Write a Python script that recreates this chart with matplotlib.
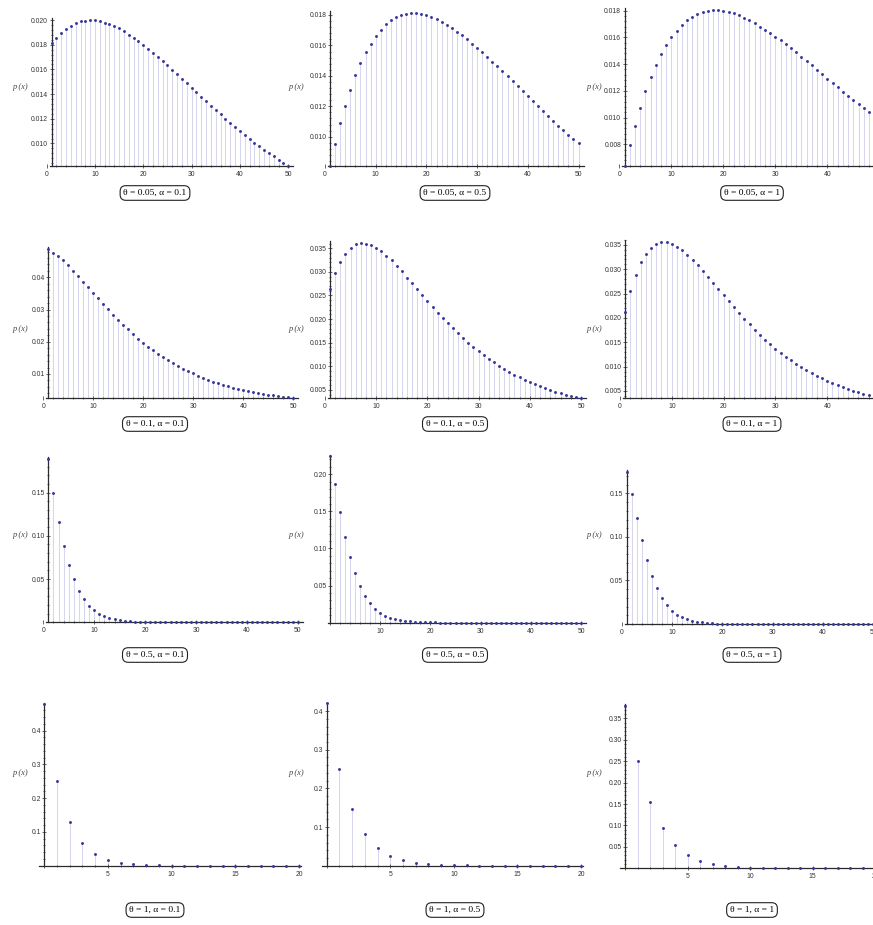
import matplotlib
matplotlib.use("Agg")
import matplotlib.pyplot as plt
from matplotlib.ticker import MultipleLocator, AutoMinorLocator, FuncFormatter

W, H = 873, 925

thetas = ["0.05", "0.1", "0.5", "1"]
alphas = ["0.1", "0.5", "1"]

x_1_50 = list(range(1, 51))
x_0_50 = list(range(0, 51))
x_0_20 = list(range(0, 21))

# theta = 0.05
p_005_01 = [0.0181, 0.01851, 0.01892, 0.01927, 0.01954, 0.01976, 0.01989, 0.01996, 0.02000, 0.01997,
            0.0199, 0.01978, 0.01965, 0.0195, 0.01932, 0.01908, 0.01882, 0.01855, 0.01827, 0.01798,
            0.01767, 0.01735, 0.01702, 0.01668, 0.01633, 0.01597, 0.0156, 0.01524, 0.01487, 0.0145,
            0.01415, 0.01378, 0.01342, 0.01306, 0.0127, 0.01235, 0.012, 0.01166, 0.01133, 0.011,
            0.01068, 0.01037, 0.01007, 0.00978, 0.0095, 0.00922, 0.00895, 0.00869, 0.00844, 0.0082]
p_005_05 = [0.0081, 0.00954, 0.0109, 0.01203, 0.01308, 0.01404, 0.01485, 0.01555, 0.01612, 0.0166,
            0.01703, 0.01739, 0.01765, 0.01787, 0.01801, 0.01809, 0.01813, 0.01811, 0.01806, 0.01798,
            0.01787, 0.01773, 0.01756, 0.01737, 0.01715, 0.01691, 0.01666, 0.0164, 0.01612, 0.01585,
            0.01555, 0.01524, 0.01493, 0.01462, 0.0143, 0.01397, 0.01364, 0.01331, 0.01298, 0.01265,
            0.01232, 0.012, 0.01168, 0.01136, 0.01105, 0.01074, 0.01044, 0.01014, 0.00985, 0.00956]
p_005_1 = [0.0064, 0.00795, 0.0094, 0.01075, 0.012, 0.01303, 0.0139, 0.01473, 0.01543, 0.016,
           0.01651, 0.01693, 0.01728, 0.01756, 0.01776, 0.0179, 0.01799, 0.01803, 0.01803, 0.01799,
           0.01792, 0.0178, 0.01765, 0.01747, 0.01727, 0.01705, 0.01681, 0.01657, 0.01632, 0.01606,
           0.01578, 0.01549, 0.01519, 0.01488, 0.01457, 0.01424, 0.01391, 0.01358, 0.01325, 0.01292,
           0.01259, 0.01227, 0.01195, 0.01163, 0.01133, 0.01103, 0.01073, 0.01043, 0.01013, 0.00985]

# theta = 0.1
p_01_01 = [0.0488, 0.04765, 0.04662, 0.04527, 0.04372, 0.04207, 0.04035, 0.03865, 0.0369, 0.03514,
           0.03345, 0.03173, 0.03008, 0.02845, 0.0269, 0.02534, 0.02382, 0.02236, 0.02099, 0.01972,
           0.01851, 0.01737, 0.0163, 0.01529, 0.01431, 0.01338, 0.01251, 0.01169, 0.0109, 0.01015,
           0.00945, 0.00879, 0.00818, 0.0076, 0.00707, 0.00658, 0.00612, 0.00569, 0.0053, 0.00494,
           0.00461, 0.0043, 0.00402, 0.00377, 0.00354, 0.00333, 0.00314, 0.00297, 0.00281, 0.00267]
p_01_05 = [0.0263, 0.02972, 0.03206, 0.0338, 0.03505, 0.0358, 0.03613, 0.03598, 0.03562, 0.03508,
           0.03437, 0.03345, 0.03243, 0.0313, 0.03008, 0.0288, 0.02757, 0.0263, 0.02504, 0.02378,
           0.02257, 0.02138, 0.02022, 0.0191, 0.01801, 0.01696, 0.01595, 0.01499, 0.01408, 0.0132,
           0.01236, 0.01158, 0.01083, 0.01013, 0.00946, 0.00884, 0.00825, 0.00769, 0.00717, 0.00668,
           0.00622, 0.00579, 0.00539, 0.00501, 0.00466, 0.00433, 0.00403, 0.00375, 0.00348, 0.00324]
p_01_1 = [0.02116, 0.02548, 0.0289, 0.03144, 0.03315, 0.03445, 0.03527, 0.03557, 0.03553, 0.03514,
          0.03462, 0.03388, 0.033, 0.03198, 0.03087, 0.02968, 0.02845, 0.02719, 0.02591, 0.02464,
          0.02339, 0.02216, 0.02096, 0.0198, 0.01867, 0.01758, 0.01654, 0.01555, 0.01461, 0.01371,
          0.01287, 0.01206, 0.01131, 0.01059, 0.00992, 0.00928, 0.00868, 0.00812, 0.00759, 0.0071,
          0.00664, 0.0062, 0.00579, 0.00541, 0.00505, 0.00472, 0.00441, 0.00412, 0.00385, 0.0036]

# theta = 0.5
p_05_01 = [0.1885, 0.1492, 0.1158, 0.0881, 0.0665, 0.0496, 0.0365, 0.0269, 0.0192, 0.0138,
           0.0100, 0.0072, 0.0051, 0.0037, 0.0026, 0.0019, 0.0013, 0.0009, 0.00066, 0.00047,
           0.00033, 0.00023, 0.00017, 0.00012, 0.00008, 0.00006, 0.00004, 0.00003, 0.00002, 0.00001,
           0, 0, 0, 0, 0, 0, 0, 0, 0, 0,
           0, 0, 0, 0, 0, 0, 0, 0, 0, 0]
p_05_05 = [0.224, 0.1869, 0.1488, 0.1154, 0.0882, 0.0664, 0.0492, 0.0362, 0.0263, 0.0190,
           0.0136, 0.0097, 0.0069, 0.0049, 0.0034, 0.0024, 0.0017, 0.0012, 0.0008, 0.00056,
           0.00039, 0.00027, 0.00019, 0.00013, 0.00009, 0.00006, 0.00004, 0.00003, 0.00002, 0.00001,
           0, 0, 0, 0, 0, 0, 0, 0, 0, 0,
           0, 0, 0, 0, 0, 0, 0, 0, 0, 0, 0]
p_05_1 = [0.175, 0.1492, 0.1215, 0.0962, 0.0738, 0.0552, 0.0408, 0.0299, 0.0214, 0.0153,
          0.0108, 0.0076, 0.0053, 0.0037, 0.0026, 0.0018, 0.0012, 0.0008, 0.00056, 0.00038,
          0.00026, 0.00018, 0.00012, 0.00008, 0.00005, 0.00004, 0.00002, 0.00002, 0.00001, 0.00001,
          0, 0, 0, 0, 0, 0, 0, 0, 0, 0,
          0, 0, 0, 0, 0, 0, 0, 0, 0, 0]

# theta = 1
p_1_01 = [0.479, 0.2495, 0.1291, 0.0678, 0.0349, 0.0172, 0.0082, 0.0039, 0.0019, 0.0009, 0.0004,
          0.0002, 0.0001, 0.00005, 0.00002, 0.00001, 0, 0, 0, 0, 0]
p_1_05 = [0.4195, 0.2494, 0.1454, 0.0829, 0.0462, 0.0255, 0.0140, 0.0076, 0.0041, 0.0022, 0.0012,
          0.0006, 0.0003, 0.00017, 0.00009, 0.00005, 0.00003, 0.00001, 0, 0, 0]
p_1_1 = [0.3795, 0.2502, 0.1559, 0.0936, 0.0547, 0.0313, 0.0177, 0.0098, 0.0054, 0.0029, 0.0016,
         0.0008, 0.0004, 0.0002, 0.0001, 0.00006, 0.00003, 0.00002, 0.00001, 0, 0]

panels = [
    [(x_1_50, p_005_01), (x_1_50, p_005_05), (x_1_50, p_005_1)],
    [(x_1_50, p_01_01), (x_1_50, p_01_05), (x_1_50, p_01_1)],
    [(x_1_50, p_05_01), (x_0_50, p_05_05), (x_1_50, p_05_1)],
    [(x_0_20, p_1_01), (x_0_20, p_1_05), (x_0_20, p_1_1)],
]

ylims = [
    [(0.0082, 0.02014), (0.0081, 0.01828), (0.0064, 0.01818)],
    [(0.00245, 0.0495), (0.00323, 0.0366), (0.0035, 0.0360)],
    [(0, 0.1908), (0, 0.226), (0, 0.1769)],
    [(0, 0.481), (0, 0.42), (0, 0.3835)],
]
ysteps = [[0.002, 0.002, 0.002], [0.01, 0.005, 0.005], [0.05, 0.05, 0.05], [0.1, 0.1, 0.05]]
ydec = [[3, 3, 3], [2, 3, 3], [2, 2, 2], [1, 1, 2]]

# pixel layout: x pixel of x=0, pixels per unit, x-axis pixel row, axis top pixel row
layout = [
    [(46.7, 4.83, 165.7, 18.3), (325.0, 5.07, 165.7, 10.7), (619.3, 5.2, 165.7, 8.3)],
    [(43.3, 5.0, 398.3, 246.7), (325.0, 5.12, 398.3, 240.7), (620.0, 5.18, 398.3, 240.0)],
    [(43.3, 5.09, 622.3, 457.2), (330.0, 5.02, 622.7, 455.0), (621.7, 5.03, 624.0, 470.0)],
    [(44.3, 12.73, 865.7, 703.3), (326.7, 12.71, 865.7, 703.3), (625.0, 12.5, 868.3, 704.0)],
]
ylabel_x = [20, 296, 594]
ylabel_y = [87, 329, 535, 773]
title_x = [155, 455, 752]
title_y = [193, 424, 655, 910]

point_color = "#35359a"
stem_color = "#d6d6ef"
axis_color = "#2a2a2a"

fig = plt.figure(figsize=(W / 100, H / 100), dpi=100)

for r in range(4):
    for c in range(3):
        xs, ps = panels[r][c]
        ylo, yhi = ylims[r][c]
        x0, s, yb, yt = layout[r][c]
        axis_x = xs[0]
        if r == 3:
            xl, xr, tick = axis_x - 0.4, 20.2, 5
        else:
            xl, xr, tick = (0 if axis_x == 1 else -0.4), 51, 10
        left = (x0 + s * xl) / W
        width = s * (xr - xl) / W
        ax = fig.add_axes([left, 1 - yb / H, width, (yb - yt) / H])
        ax.set_xlim(xl, xr)
        ax.set_ylim(ylo, yhi)

        ax.vlines(xs, ylo, ps, colors=stem_color, lw=0.75, zorder=1)
        ax.plot(xs, ps, "o", ms=2.1, color=point_color, mec="none", clip_on=False, zorder=3)

        for side in ("top", "right"):
            ax.spines[side].set_visible(False)
        ax.spines["left"].set_position(("data", axis_x))
        ax.spines["bottom"].set_bounds(axis_x - 0.4, xr)
        for side in ("left", "bottom"):
            ax.spines[side].set_color(axis_color)
            ax.spines[side].set_linewidth(0.9)
            ax.spines[side].set_zorder(2)

        # last tick label lies past the figure edge in the top two right panels
        x_hide_from = 50 if (c == 2 and r < 2) else 1e9

        ax.xaxis.set_major_locator(MultipleLocator(tick))
        ax.xaxis.set_minor_locator(AutoMinorLocator(5))
        ax.yaxis.set_major_locator(MultipleLocator(ysteps[r][c]))
        ax.yaxis.set_minor_locator(AutoMinorLocator(5))
        ax.xaxis.set_major_formatter(FuncFormatter(
            lambda v, pos, a=axis_x, h=x_hide_from:
            "" if ((abs(v - a) < 1e-9 and a == 0) or v >= h) else f"{v:.0f}"))
        ax.yaxis.set_major_formatter(FuncFormatter(
            lambda v, pos, d=ydec[r][c]: "" if abs(v) < 1e-12 else f"{v:.{d}f}"))

        ax.tick_params(which="both", direction="inout", colors=axis_color, width=0.5)
        ax.tick_params(which="major", length=3)
        ax.tick_params(which="minor", length=1.6)
        ax.tick_params(axis="y", pad=1)
        ax.tick_params(axis="x", pad=2)
        for lab in ax.get_xticklabels() + ax.get_yticklabels():
            lab.set_fontsize(4.9)
            lab.set_family("Liberation Sans")
            lab.set_color("#333333")

        fig.text(ylabel_x[c] / W, 1 - ylabel_y[r] / H, "p (x)", ha="center", va="center",
                 fontsize=6, family="Liberation Serif", style="italic", color="#444444")
        fig.text(title_x[c] / W, 1 - title_y[r] / H, f"θ = {thetas[r]}, α = {alphas[c]}",
                 ha="center", va="center", fontsize=6.8, family="Liberation Serif",
                 bbox=dict(boxstyle="round,pad=0.35,rounding_size=0.6", fc="white",
                           ec="#222222", lw=0.8))

fig.savefig("out.png", dpi=100)
